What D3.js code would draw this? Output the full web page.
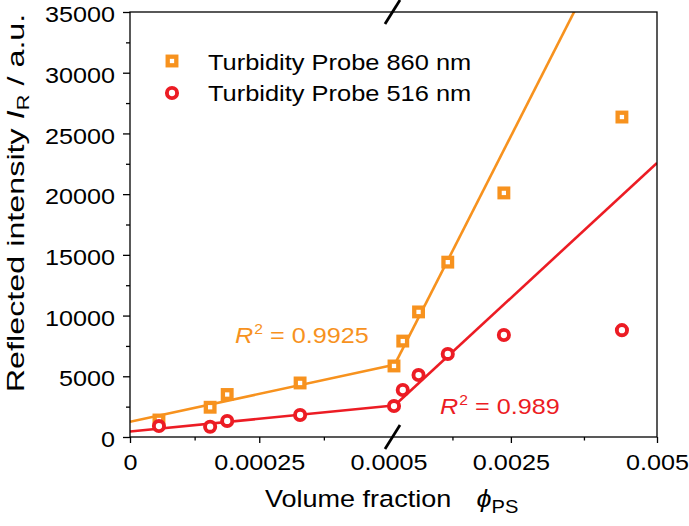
<!DOCTYPE html>
<html><head><meta charset="utf-8">
<script src="https://cdn.jsdelivr.net/npm/d3@7"></script>
<style>
body{margin:0;background:#fff}
svg{display:block}
text{font-family:"Liberation Sans",Arial,Helvetica,sans-serif;fill:#000}
</style>
</head><body>
<svg id="c" width="689" height="526"></svg>
<script>
// ---------- data ----------
const phi = [0.000056, 0.000155, 0.000188, 0.000329, 0.0005, 0.00065, 0.00092, 0.00142, 0.00238, 0.0044];
const probe860 = [1400, 2450, 3500, 4450, 5850, 7900, 10300, 14400, 20100, 26350];
const probe516 = [900, 850, 1320, 1810, 2550, 3870, 5100, 6840, 8400, 8800];
const seriesNames = ["Turbidity Probe 860 nm", "Turbidity Probe 516 nm"];
const fit860Low = [[0, 1250], [0.0005, 5850]];
const fit860High = [[0.0005, 5850], [0.005, 48420]];
const fit516Low = [[0, 450], [0.0005, 2550]];
const fit516High = [[0.0005, 2550], [0.005, 22570]];
const r2Values = ["0.9925", "0.989"];
const yTicks = [0, 5000, 10000, 15000, 20000, 25000, 30000, 35000];
const yMinorTicks = [2500, 7500, 12500, 17500, 22500, 27500, 32500];
const xTicksLow = [0, 0.00025, 0.0005];
const xTickLabelsLow = ["0", "0.00025", "0.0005"];
const xMinorLow = [0.000125, 0.000375];
const xTicksHigh = [0.0025, 0.005];
const xTickLabelsHigh = ["0.0025", "0.005"];
const xMinorHigh = [0.0015, 0.00375];

const ORANGE = "#F7921E", RED = "#EC1C24";
const SX = 1.12; // horizontal glyph stretch seen in the reference

const svg = d3.select("#c");
const L = 130, R = 657, T = 12, B = 437;

const y = d3.scaleLinear().domain([0, 35000]).range([B, T]);
const xLow = d3.scaleLinear().domain([0, 0.0005]).range([L, 388.5]);
const xHigh = d3.scaleLinear().domain([0.0005, 0.005]).range([394, R]);
const xPos = v => v < 0.0005 ? xLow(v) : xHigh(v);

svg.append("defs").append("clipPath").attr("id", "clip")
  .append("rect").attr("x", L).attr("y", T).attr("width", R - L).attr("height", B - T);

// ---------- axes ----------
const yAx = svg.append("g").attr("transform", `translate(${L},0)`)
  .call(d3.axisLeft(y).tickValues(yTicks).tickSize(7).tickFormat(d3.format("d")));
yAx.selectAll("text").attr("x", 0).attr("y", 2.5).attr("dy", "0.32em")
  .attr("transform", `translate(-15,0) scale(${SX},1)`)
  .style("font-size", "22.5px").style("font-family", "Liberation Sans, Arial, sans-serif");
svg.append("g").attr("transform", `translate(${L},0)`)
  .call(d3.axisLeft(y).tickValues(yMinorTicks).tickSize(4).tickFormat(""));

const xAxLow = svg.append("g").attr("transform", `translate(0,${B})`)
  .call(d3.axisBottom(xLow).tickValues(xTicksLow).tickSize(6).tickFormat((d, i) => xTickLabelsLow[i]));
svg.append("g").attr("transform", `translate(0,${B})`)
  .call(d3.axisBottom(xLow).tickValues(xMinorLow).tickSize(3.5).tickFormat(""));
const xAxHigh = svg.append("g").attr("transform", `translate(0,${B})`)
  .call(d3.axisBottom(xHigh).tickValues(xTicksHigh).tickSize(6).tickFormat((d, i) => xTickLabelsHigh[i]));
svg.append("g").attr("transform", `translate(0,${B})`)
  .call(d3.axisBottom(xHigh).tickValues(xMinorHigh).tickSize(3.5).tickFormat(""));
xAxLow.selectAll(".tick").filter(d => d === 0.0005).select("line").remove();
[xAxLow, xAxHigh].forEach(a => a.selectAll("text").attr("y", 0).attr("dy", 0)
  .attr("transform", `translate(0,33) scale(${SX},1)`)
  .style("font-size", "22.5px").style("font-family", "Liberation Sans, Arial, sans-serif"));

svg.selectAll(".domain").remove();
svg.selectAll(".tick line").attr("stroke", "#000").attr("stroke-width", 1.3);

// ---------- fit lines ----------
const plot = svg.append("g").attr("clip-path", "url(#clip)");
[[fit860Low, ORANGE, xLow], [fit860High, ORANGE, xHigh], [fit516Low, RED, xLow], [fit516High, RED, xHigh]]
  .forEach(([pts, col, sc]) => {
    plot.append("path").datum(pts)
      .attr("d", d3.line().x(d => sc(d[0])).y(d => y(d[1])))
      .attr("fill", "none").attr("stroke", col).attr("stroke-width", 2.6);
  });

// ---------- frame ----------
svg.append("rect").attr("x", L).attr("y", T).attr("width", R - L).attr("height", B - T)
  .attr("fill", "none").attr("stroke", "#000").attr("stroke-width", 1.3);

// ---------- markers ----------
const SQ = 8.6, SQW = 4.3, CR = 5.1, CW = 3.9;
const pts860 = phi.map((p, i) => [p, probe860[i]]);
const pts516 = phi.map((p, i) => [p, probe516[i]]);
svg.append("g").selectAll("rect").data(pts860).join("rect")
  .attr("x", d => xPos(d[0]) - SQ / 2).attr("y", d => y(d[1]) - SQ / 2)
  .attr("width", SQ).attr("height", SQ)
  .attr("fill", "#fff").attr("stroke", ORANGE).attr("stroke-width", SQW);
svg.append("g").selectAll("circle").data(pts516).join("circle")
  .attr("cx", d => xPos(d[0])).attr("cy", d => y(d[1])).attr("r", CR)
  .attr("fill", "#fff").attr("stroke", RED).attr("stroke-width", CW);

// ---------- axis break marks ----------
[B, T].forEach(yy => {
  svg.append("line").attr("x1", 392.5 - 7.5).attr("y1", yy + 12).attr("x2", 392.5 + 7.5).attr("y2", yy - 12)
    .attr("stroke", "#000").attr("stroke-width", 2.8);
});

// ---------- legend ----------
const leg = svg.append("g");
leg.append("rect").attr("x", 172 - SQ / 2).attr("y", 61 - SQ / 2).attr("width", SQ).attr("height", SQ)
  .attr("fill", "#fff").attr("stroke", ORANGE).attr("stroke-width", SQW);
leg.append("circle").attr("cx", 172).attr("cy", 93).attr("r", CR)
  .attr("fill", "#fff").attr("stroke", RED).attr("stroke-width", CW);
[[seriesNames[0], 70], [seriesNames[1], 101]].forEach(([t, yy]) => {
  leg.append("text").attr("transform", `translate(208,${yy}) scale(1.13,1)`)
    .style("font-size", "22.5px").text(t);
});

// ---------- R^2 labels ----------
function r2(xx, yy, col, val) {
  const t = svg.append("text").attr("transform", `translate(${xx},${yy}) scale(1.12,1)`)
    .style("font-size", "22.5px").style("fill", col);
  t.append("tspan").style("font-style", "italic").text("R");
  t.append("tspan").attr("dy", -9).attr("dx", 1).style("font-size", "14px").text("2");
  t.append("tspan").attr("dy", 9).text(" = " + val);
}
r2(235, 343, ORANGE, r2Values[0]);
r2(440, 414, RED, r2Values[1]);

// ---------- axis titles ----------
const yt = svg.append("text").attr("transform", "translate(24,203) rotate(-90) scale(1.32,1)")
  .attr("text-anchor", "middle").style("font-size", "24.5px");
yt.append("tspan").text("Reflected intensity ");
yt.append("tspan").style("font-style", "italic").text("I");
yt.append("tspan").attr("dy", 5).style("font-size", "16.5px").text("R");
yt.append("tspan").attr("dy", -5).text(" / a.u.");

const xt = svg.append("text").attr("transform", "translate(265,507) scale(1.15,1)")
  .style("font-size", "23.5px");
xt.append("tspan").text("Volume fraction");
xt.append("tspan").attr("dx", 22).style("font-style", "italic").text("\u03D5");
xt.append("tspan").attr("dy", 6).style("font-size", "17.5px").text("PS");
</script>
</body></html>
